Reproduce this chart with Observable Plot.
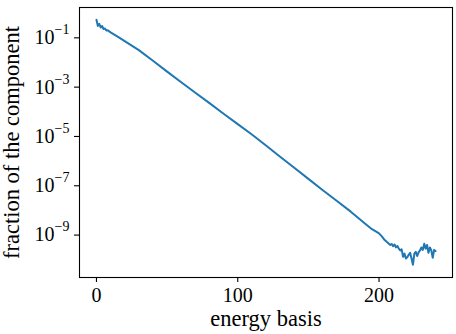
<!DOCTYPE html>
<html><head><meta charset="utf-8">
<script src="https://cdn.jsdelivr.net/npm/d3@7"></script>
<script src="https://cdn.jsdelivr.net/npm/@observablehq/plot@0.6"></script>
<style>body{margin:0;background:#fff}</style>
</head><body><div id="chart"></div>
<script>
const basis = [0,1,2,3,4,5,6,7,8,10,15,20,30,40,50,60,70,80,90,100,110,120,130,140,150,160,170,180,190,195,198,200,202,204,206,
  207,208,209,210,211,212,213,214,215,216,217,218,219,220,221,222,223,224,225,226,227,228,229,230,231,232,233,234,235,236,237,238,239,240];
const log10Fraction = [-0.27,-0.52,-0.43,-0.58,-0.52,-0.64,-0.62,-0.70,-0.69,-0.78,-0.95,-1.13,-1.50,-1.93,-2.37,-2.80,-3.23,-3.65,-4.08,-4.50,-4.92,-5.37,-5.82,-6.27,-6.72,-7.17,-7.61,-8.05,-8.53,-8.76,-8.86,-8.93,-9.05,-9.20,-9.30,
  -9.35,-9.40,-9.36,-9.45,-9.38,-9.50,-9.44,-9.55,-9.62,-9.58,-9.88,-9.75,-9.95,-9.90,-9.80,-9.72,-9.95,-10.20,-9.75,-9.68,-9.85,-9.70,-9.62,-9.50,-9.60,-9.35,-9.55,-9.40,-9.72,-9.50,-9.62,-9.92,-9.60,-9.65];
const xTicks = [0, 100, 200];
const yTickExponents = [-1, -3, -5, -7, -9];
const xLabel = "energy basis";
const yLabel = "fraction of the component";

const data = basis.map((b, i) => ({basis: b, fraction: Math.pow(10, log10Fraction[i])}));
const font = "'Liberation Serif', serif";

const chart = Plot.plot({
  width: 456, height: 334,
  marginLeft: 79, marginRight: 4, marginTop: 7, marginBottom: 57,
  style: {fontFamily: font, fontSize: "20px", background: "#fff", color: "#000"},
  x: {domain: [-12, 252]},
  y: {type: "log", domain: [Math.pow(10, -10.72), Math.pow(10, 0.23)]},
  marks: [
    Plot.frame({stroke: "#000", strokeWidth: 1.1}),
    Plot.axisX({ticks: xTicks, tickSize: 5, tickPadding: 5, strokeWidth: 1.1, fontSize: 20,
      label: xLabel, labelAnchor: "center", labelArrow: "none", labelOffset: 48}),
    Plot.axisY({ticks: yTickExponents.map(e => Math.pow(10, e)),
      tickFormat: d => "10^" + Math.round(Math.log10(d)), tickSize: 5, tickPadding: 5, strokeWidth: 1.1, fontSize: 20,
      label: yLabel, labelAnchor: "center", labelArrow: "none", labelOffset: 76}),
    Plot.line(data, {x: "basis", y: "fraction", stroke: "#1f77b4", strokeWidth: 2})
  ]
});
d3.select(chart).selectAll("text").each(function() {
  const t = this.textContent;
  const m = /^10\^(-?\d+)$/.exec(t);
  const sel = d3.select(this);
  if (m) {
    sel.text("");
    sel.append("tspan").text("10");
    sel.append("tspan").attr("dy", "-10px").attr("font-size", "14px").text(m[1].replace("-", "\u2212"));
  } else if (t === xLabel || t === yLabel) {
    sel.attr("font-size", "22.5px");
  }
});
document.getElementById("chart").appendChild(chart);
</script>
</body></html>
